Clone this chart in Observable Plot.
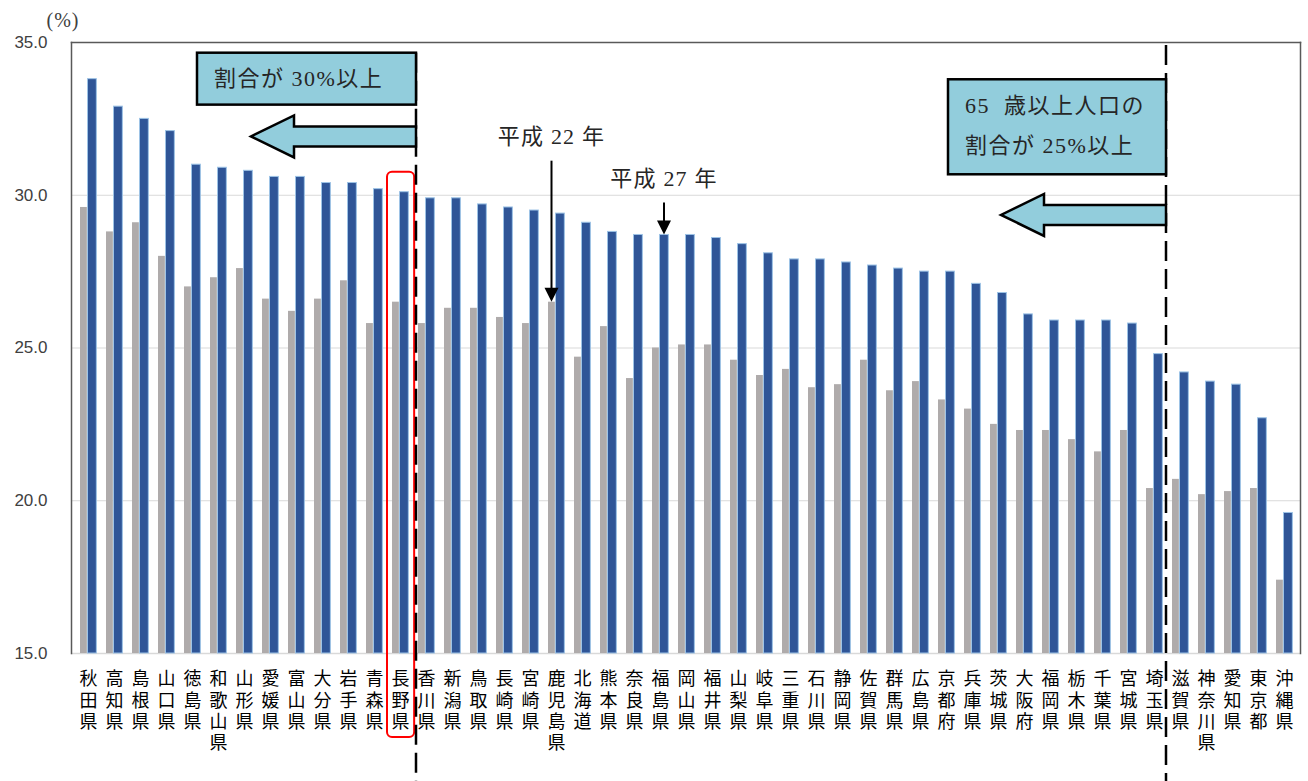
<!DOCTYPE html>
<html>
<head>
<meta charset="utf-8">
<script src="https://cdn.jsdelivr.net/npm/d3@7"></script>
<script src="https://cdn.jsdelivr.net/npm/@observablehq/plot@0.6"></script>
<style>
  body { margin: 0; background: #fff; }
  svg { display: block; }
</style>
</head>
<body>
<div id="chart"></div>
<script>
// 都道府県別 65歳以上人口の割合（平成22年・平成27年）
const prefectures = [
  "秋田県","高知県","島根県","山口県","徳島県","和歌山県","山形県","愛媛県","富山県","大分県",
  "岩手県","青森県","長野県","香川県","新潟県","鳥取県","長崎県","宮崎県","鹿児島県","北海道",
  "熊本県","奈良県","福島県","岡山県","福井県","山梨県","岐阜県","三重県","石川県","静岡県",
  "佐賀県","群馬県","広島県","京都府","兵庫県","茨城県","大阪府","福岡県","栃木県","千葉県",
  "宮城県","埼玉県","滋賀県","神奈川県","愛知県","東京都","沖縄県"
];
// 平成22年（%）
const h22 = [
  29.6, 28.8, 29.1, 28.0, 27.0, 27.3, 27.6, 26.6, 26.2, 26.6,
  27.2, 25.8, 26.5, 25.8, 26.3, 26.3, 26.0, 25.8, 26.5, 24.7,
  25.7, 24.0, 25.0, 25.1, 25.1, 24.6, 24.1, 24.3, 23.7, 23.8,
  24.6, 23.6, 23.9, 23.3, 23.0, 22.5, 22.3, 22.3, 22.0, 21.6,
  22.3, 20.4, 20.7, 20.2, 20.3, 20.4, 17.4
];
// 平成27年（%）
const h27 = [
  33.8, 32.9, 32.5, 32.1, 31.0, 30.9, 30.8, 30.6, 30.6, 30.4,
  30.4, 30.2, 30.1, 29.9, 29.9, 29.7, 29.6, 29.5, 29.4, 29.1,
  28.8, 28.7, 28.7, 28.7, 28.6, 28.4, 28.1, 27.9, 27.9, 27.8,
  27.7, 27.6, 27.5, 27.5, 27.1, 26.8, 26.1, 25.9, 25.9, 25.9,
  25.8, 24.8, 24.2, 23.9, 23.8, 22.7, 19.6
];
const yTicks = [15, 20, 25, 30, 35];
const gridValues = [20, 25, 30];
const yUnit = "(%)";

// 区切り線（この県の手前に引く）と注記
const dividers = [
  {before: "香川県", shift: 3, top: 34.65},
  {before: "滋賀県", shift: -1, top: 34.9}
];
const notes = [
  {divider: 0, lines: ["割合が 30%以上"], width: 219, top: 34.65, bottom: 32.95},
  {divider: 1, lines: ["65  歳以上人口の", "割合が 25%以上"], width: 218, top: 33.78, bottom: 30.67}
];
const blockArrows = [
  {divider: 0, y: 31.91, length: 165},
  {divider: 1, y: 29.34, length: 165}
];
const pointers = [
  {pref: "鹿児島県", series: "h22", label: "平成 22 年", length: 141},
  {pref: "福島県", series: "h27", label: "平成 27 年", length: 32}
];
const highlight = "長野県";

const rows = prefectures.map((p, i) => ({pref: p, h22: h22[i], h27: h27[i]}));

const W = 1308, H = 781;
const mL = 71, mR = 8, mT = 42, mB = 128;
const bw = (W - mL - mR) / prefectures.length;

const CJK = "'Noto Sans CJK JP', sans-serif";
const NOTE_FONT = "'Liberation Serif', 'Noto Sans CJK JP', serif";

const chart = Plot.plot({
  width: W,
  height: H,
  marginLeft: mL,
  marginRight: mR,
  marginTop: mT,
  marginBottom: mB,
  style: {background: "#fff", overflow: "visible"},
  x: {domain: prefectures, padding: 0, axis: null},
  y: {domain: [15, 35], axis: null},
  marks: [
    Plot.ruleY(gridValues, {stroke: "#d9d9d9", strokeWidth: 1}),
    Plot.ruleY([15], {stroke: "#d9d9d9", strokeWidth: 1.5}),
    Plot.barY(rows, {
      x: "pref", y1: 15, y2: "h22",
      fill: "#afabab",
      insetLeft: 5, insetRight: bw - 12
    }),
    Plot.barY(rows, {
      x: "pref", y1: 15, y2: "h27",
      fill: "#2f5597", stroke: "#9dc3e6", strokeWidth: 1,
      insetLeft: 12.5, insetRight: 4.65
    }),
    Plot.frame({anchor: "top", stroke: "#595959", strokeWidth: 1.5}),
    Plot.frame({anchor: "left", stroke: "#595959", strokeWidth: 1.5}),
    Plot.frame({anchor: "right", stroke: "#595959", strokeWidth: 1.5}),
    Plot.axisX({
      tickSize: 0, tickPadding: 17, label: null,
      tickFormat: d => [...d].join("\n"),
      fontSize: 18, lineHeight: 1.17,
      fontFamily: CJK, fill: "#000"
    }),
    Plot.axisY({
      ticks: yTicks, tickSize: 0, tickPadding: 24, label: null,
      tickFormat: d => d.toFixed(1),
      fontSize: 17, fontFamily: "'Liberation Sans', Arial, sans-serif", fill: "#404040"
    })
  ]
});

const xs = chart.scale("x");
const ys = chart.scale("y");
const X = name => xs.apply(name);
const Y = v => ys.apply(v);
const svg = d3.select(chart);
const g = svg.append("g").attr("text-anchor", "start");

// y軸の単位
g.append("text")
  .attr("x", 63).attr("y", 20)
  .attr("dy", "0.35em")
  .attr("text-anchor", "middle")
  .attr("font-family", NOTE_FONT)
  .attr("font-size", 20)
  .attr("letter-spacing", 1)
  .attr("fill", "#404040")
  .text(yUnit);

// 長野県の強調枠
{
  const i = prefectures.indexOf(highlight);
  const x0 = X(highlight);
  g.append("rect")
    .attr("x", x0).attr("y", Y(h27[i]) - 20)
    .attr("width", bw + 1).attr("height", (Y(15) + 84) - (Y(h27[i]) - 20))
    .attr("rx", 5).attr("ry", 5)
    .attr("fill", "none").attr("stroke", "#ff0000").attr("stroke-width", 2);
}

const divX = dividers.map(d => X(d.before) + d.shift);

// 区切りの破線
dividers.forEach((d, k) => {
  g.append("line")
    .attr("x1", divX[k]).attr("x2", divX[k])
    .attr("y1", Y(d.top)).attr("y2", H)
    .attr("stroke", "#000").attr("stroke-width", 2.5)
    .attr("stroke-dasharray", "20,8");
});

// 注記ボックス
notes.forEach(n => {
  const right = divX[n.divider];
  const top = Y(n.top), bottom = Y(n.bottom);
  g.append("rect")
    .attr("x", right - n.width).attr("y", top)
    .attr("width", n.width).attr("height", bottom - top)
    .attr("fill", "#92cddc").attr("stroke", "#000").attr("stroke-width", 2.5);
  n.lines.forEach((line, j) => {
    g.append("text")
      .attr("x", right - n.width + 17)
      .attr("y", top + 26 + j * 40)
      .attr("dy", "0.35em")
      .attr("text-anchor", "start")
      .attr("font-family", NOTE_FONT)
      .attr("font-size", 22)
      .attr("letter-spacing", 1.5)
      .attr("fill", "#262626")
      .attr("xml:space", "preserve")
      .text(line);
  });
});

// 左向きの矢印
blockArrows.forEach(a => {
  const x0 = divX[a.divider];
  const tip = x0 - a.length, head = tip + 43, cy = Y(a.y);
  const pts = [[x0, cy - 10], [head, cy - 10], [head, cy - 21], [tip, cy],
               [head, cy + 21], [head, cy + 10], [x0, cy + 10]];
  g.append("polygon")
    .attr("points", pts.map(p => p.join(",")).join(" "))
    .attr("fill", "#92cddc").attr("stroke", "#000").attr("stroke-width", 2.5)
    .attr("stroke-linejoin", "miter");
});

// 系列の説明（矢印付き）
pointers.forEach(p => {
  const i = prefectures.indexOf(p.pref);
  const v = p.series === "h22" ? h22[i] : h27[i];
  const cx = X(p.pref) + (p.series === "h22" ? 8.5 : 17);
  const tipY = Y(v);
  const startY = tipY - p.length;
  g.append("line")
    .attr("x1", cx).attr("x2", cx)
    .attr("y1", startY).attr("y2", tipY - 12)
    .attr("stroke", "#000").attr("stroke-width", 2);
  g.append("polygon")
    .attr("points", `${cx - 7},${tipY - 14} ${cx + 7},${tipY - 14} ${cx},${tipY}`)
    .attr("fill", "#000");
  g.append("text")
    .attr("x", cx).attr("y", startY - 24)
    .attr("dy", "0.35em")
    .attr("text-anchor", "middle")
    .attr("font-family", NOTE_FONT)
    .attr("font-size", 22)
    .attr("letter-spacing", 1.2)
    .attr("fill", "#262626")
    .attr("xml:space", "preserve")
    .text(p.label);
});

document.getElementById("chart").append(chart);
</script>
</body>
</html>
